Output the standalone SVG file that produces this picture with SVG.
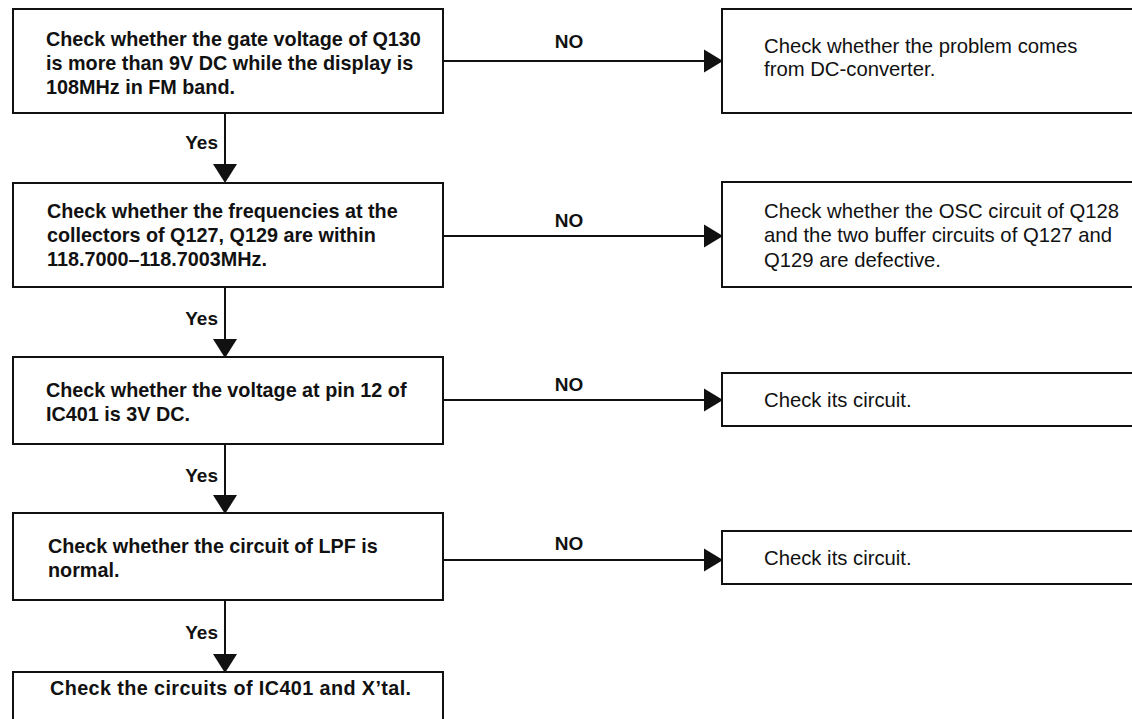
<svg xmlns="http://www.w3.org/2000/svg" width="1132" height="719" viewBox="0 0 1132 719">
  <style>
    .box { fill: #fff; stroke: #111; stroke-width: 2; }
    .wire { fill: none; stroke: #111; stroke-width: 2; }
    .head { fill: #111; stroke: none; }
    .lt { font-family: "Liberation Sans", Arial, sans-serif; font-weight: bold; font-size: 19.8px; fill: #111; }
    .rt { font-family: "Liberation Sans", Arial, sans-serif; font-size: 20.3px; fill: #111; }
    .lbl { font-family: "Liberation Sans", Arial, sans-serif; font-weight: bold; font-size: 19px; fill: #111; }
  </style>
  <rect width="1132" height="719" fill="#fff"/>

  <g id="connectors">
    <line class="wire" x1="225" y1="113" x2="225" y2="166"/>
    <polygon class="head" points="213,164 237,164 225,183"/>
    <text class="lbl" x="218" y="149" text-anchor="end">Yes</text>

    <line class="wire" x1="225" y1="287" x2="225" y2="341"/>
    <polygon class="head" points="213,339 237,339 225,358"/>
    <text class="lbl" x="218" y="325" text-anchor="end">Yes</text>

    <line class="wire" x1="225" y1="444" x2="225" y2="497"/>
    <polygon class="head" points="213,495 237,495 225,514"/>
    <text class="lbl" x="218" y="482" text-anchor="end">Yes</text>

    <line class="wire" x1="225" y1="600" x2="225" y2="656"/>
    <polygon class="head" points="213,654 237,654 225,673"/>
    <text class="lbl" x="218" y="639" text-anchor="end">Yes</text>

    <line class="wire" x1="443" y1="61" x2="706" y2="61"/>
    <polygon class="head" points="704,49.5 704,72.5 723,61"/>
    <text class="lbl" x="569" y="48" text-anchor="middle">NO</text>

    <line class="wire" x1="443" y1="236" x2="706" y2="236"/>
    <polygon class="head" points="704,224.5 704,247.5 723,236"/>
    <text class="lbl" x="569" y="227" text-anchor="middle">NO</text>

    <line class="wire" x1="443" y1="400" x2="706" y2="400"/>
    <polygon class="head" points="704,388.5 704,411.5 723,400"/>
    <text class="lbl" x="569" y="391" text-anchor="middle">NO</text>

    <line class="wire" x1="443" y1="560" x2="706" y2="560"/>
    <polygon class="head" points="704,548.5 704,571.5 723,560"/>
    <text class="lbl" x="569" y="550" text-anchor="middle">NO</text>
  </g>

  <g id="n1">
    <rect class="box" x="13" y="9" width="430" height="104"/>
    <text class="lt" x="46" y="46">Check whether the gate voltage of Q130</text>
    <text class="lt" x="46" y="70">is more than 9V DC while the display is</text>
    <text class="lt" x="46" y="94">108MHz in FM band.</text>
  </g>
  <g id="n2">
    <rect class="box" x="13" y="183" width="430" height="104"/>
    <text class="lt" x="47" y="218">Check whether the frequencies at the</text>
    <text class="lt" x="47" y="242">collectors of Q127, Q129 are within</text>
    <text class="lt" x="47" y="266">118.7000–118.7003MHz.</text>
  </g>
  <g id="n3">
    <rect class="box" x="13" y="357" width="430" height="87"/>
    <text class="lt" x="46" y="397">Check whether the voltage at pin 12 of</text>
    <text class="lt" x="46" y="421">IC401 is 3V DC.</text>
  </g>
  <g id="n4">
    <rect class="box" x="13" y="513" width="430" height="87"/>
    <text class="lt" x="48" y="553">Check whether the circuit of LPF is</text>
    <text class="lt" x="48" y="577">normal.</text>
  </g>
  <g id="n5">
    <rect class="box" x="13" y="672" width="430" height="70"/>
    <text class="lt" x="50" y="695" letter-spacing="0.4">Check the circuits of IC401 and X’tal.</text>
  </g>

  <g id="r1">
    <rect class="box" x="722" y="9" width="430" height="104"/>
    <text class="rt" x="764" y="53">Check whether the problem comes</text>
    <text class="rt" x="764" y="76">from DC-converter.</text>
  </g>
  <g id="r2">
    <rect class="box" x="722" y="182" width="430" height="105"/>
    <text class="rt" x="764" y="218">Check whether the OSC circuit of Q128</text>
    <text class="rt" x="764" y="242">and the two buffer circuits of Q127 and</text>
    <text class="rt" x="764" y="267">Q129 are defective.</text>
  </g>
  <g id="r3">
    <rect class="box" x="722" y="373" width="430" height="53"/>
    <text class="rt" x="764" y="407">Check its circuit.</text>
  </g>
  <g id="r4">
    <rect class="box" x="722" y="531" width="430" height="53"/>
    <text class="rt" x="764" y="565">Check its circuit.</text>
  </g>
</svg>
